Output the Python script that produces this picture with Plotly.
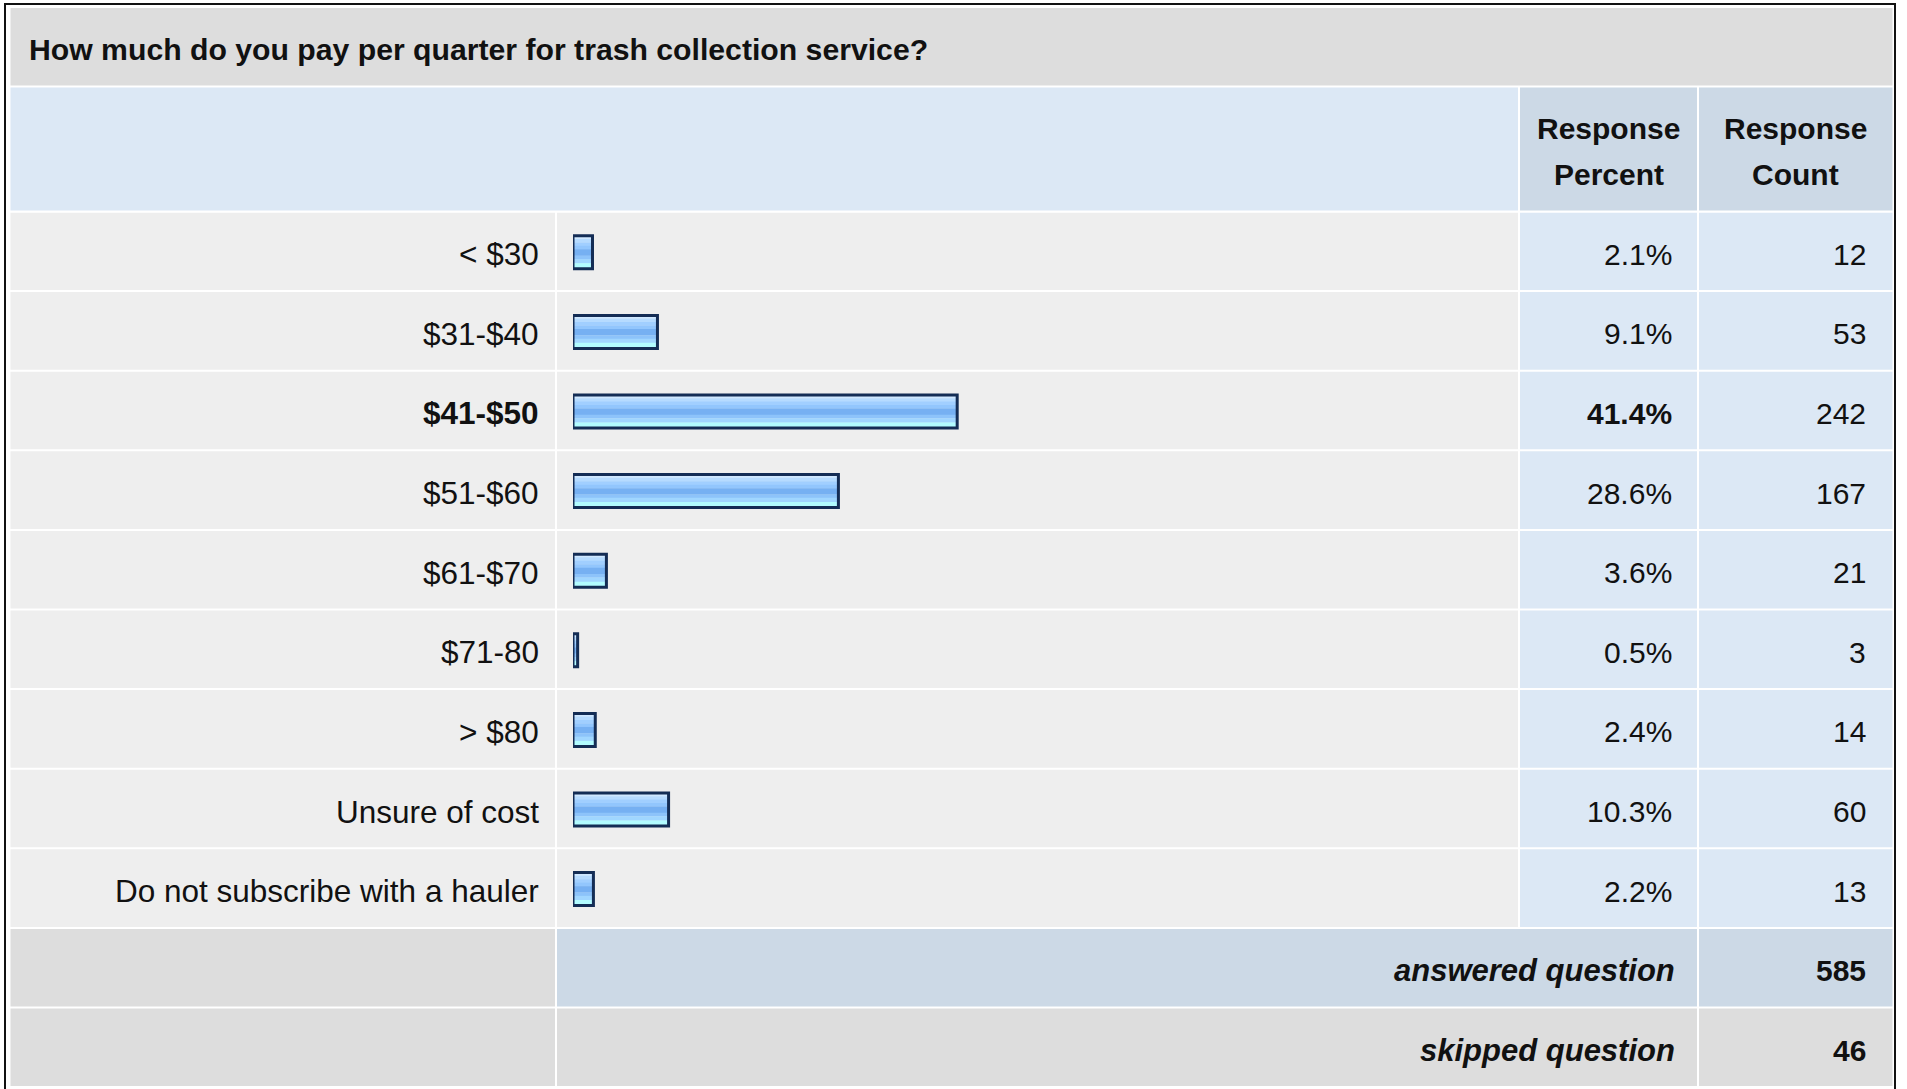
import plotly.graph_objects as go

# ---------------- data ----------------
title_text = "How much do you pay per quarter for trash collection service?"
categories = ["< $30", "$31-$40", "$41-$50", "$51-$60", "$61-$70", "$71-80",
              "> $80", "Unsure of cost", "Do not subscribe with a hauler"]
percents = [2.1, 9.1, 41.4, 28.6, 3.6, 0.5, 2.4, 10.3, 2.2]
counts = [12, 53, 242, 167, 21, 3, 14, 60, 13]
header_lines = [["Response", "Percent"], ["Response", "Count"]]
summary_labels = ["answered question", "skipped question"]
summary_values = [585, 46]

# ---------------- layout helpers ----------------
W, H = 1907, 1089
FONT = "Liberation Sans, Arial, Helvetica, sans-serif"


def px(x):
    return x / W


def py(y):
    return 1 - y / H


ROW0 = 212.5
PITCH = 79.6
GAP = 2.0
n_rows = len(categories) + len(summary_labels)
rows = list(range(len(categories)))
max_i = max(range(len(percents)), key=lambda i: percents[i])

# column extents (px)
COL_LABEL = (10.5, 555)
COL_BAR = (557, 1518)
COL_PCT = (1520, 1697)
COL_CNT = (1699, 1892.5)

C_TITLE = "#dddddd"
C_HEAD_L = "#dce8f5"
C_HEAD_C = "#ccd9e6"
C_ROW = "#eeeeee"
C_NUM = "#dce8f5"
C_SUM = "#ccd9e6"
C_SKIP = "#dddddd"
TXT = "#111111"

shapes = []


def cell_px(x0, x1, y0, y1, color):
    shapes.append(dict(type="rect", xref="paper", yref="paper",
                       x0=px(x0), x1=px(x1), y0=py(y0), y1=py(y1),
                       fillcolor=color, line=dict(width=0), layer="below"))


def cell_row(x0, x1, r, color):
    shapes.append(dict(type="rect", xref="paper", yref="y",
                       x0=px(x0), x1=px(x1), y0=r - 0.5, y1=r + 0.5 - GAP / PITCH,
                       fillcolor=color, line=dict(width=0), layer="below"))


# title band and header
cell_px(COL_LABEL[0], COL_CNT[1], 8, 85.5, C_TITLE)
cell_px(COL_LABEL[0], COL_BAR[1], 87.5, 210.5, C_HEAD_L)
cell_px(COL_PCT[0], COL_PCT[1], 87.5, 210.5, C_HEAD_C)
cell_px(COL_CNT[0], COL_CNT[1], 87.5, 210.5, C_HEAD_C)

# data rows
for r in rows:
    cell_row(*COL_LABEL, r, C_ROW)
    cell_row(*COL_BAR, r, C_ROW)
    cell_row(*COL_PCT, r, C_NUM)
    cell_row(*COL_CNT, r, C_NUM)

# summary rows
r_ans = len(categories)
r_skip = len(categories) + 1
cell_row(*COL_LABEL, r_ans, C_TITLE)
cell_row(COL_BAR[0], COL_PCT[1], r_ans, C_SUM)
cell_row(*COL_CNT, r_ans, C_SUM)
cell_row(*COL_LABEL, r_skip, C_SKIP)
cell_row(COL_BAR[0], COL_PCT[1], r_skip, C_SKIP)
cell_row(*COL_CNT, r_skip, C_SKIP)

# outer border
shapes.append(dict(type="rect", xref="paper", yref="paper",
                   x0=px(5), x1=px(1895), y0=py(4), y1=py(1110),
                   line=dict(color="#111111", width=2), fillcolor="rgba(0,0,0,0)",
                   layer="above"))

# ---------------- annotations ----------------
ann = []
ann.append(dict(text="<b>%s</b>" % title_text, x=px(27), y=py(50), xref="paper", yref="paper",
                xanchor="left", yanchor="middle", showarrow=False,
                font=dict(family=FONT, size=30.2, color=TXT)))
for c, lines in zip([(COL_PCT[0] + COL_PCT[1]) / 2, (COL_CNT[0] + COL_CNT[1]) / 2], header_lines):
    for ly, t in zip([129, 174], lines):
        ann.append(dict(text="<b>%s</b>" % t, x=px(c), y=py(ly), xref="paper", yref="paper",
                        xanchor="center", yanchor="middle", showarrow=False,
                        font=dict(family=FONT, size=30, color=TXT)))

SZ_LAB = 31.5
SZ_NUM = 30
for r, (cat, p, n) in enumerate(zip(categories, percents, counts)):
    bold = (r == max_i)
    lab = "<b>%s</b>" % cat if bold else cat
    pct = "<b>%.1f%%</b>" % p if bold else "%.1f%%" % p
    ann.append(dict(text=lab, x=px(540.5), y=r, xref="paper", yref="y", yshift=-2,
                    xanchor="right", yanchor="middle", showarrow=False,
                    font=dict(family=FONT, size=SZ_LAB, color=TXT)))
    ann.append(dict(text=pct, x=px(1674), y=r, xref="paper", yref="y", yshift=-2,
                    xanchor="right", yanchor="middle", showarrow=False,
                    font=dict(family=FONT, size=SZ_NUM, color=TXT)))
    ann.append(dict(text=str(n), x=px(1868), y=r, xref="paper", yref="y", yshift=-2,
                    xanchor="right", yanchor="middle", showarrow=False,
                    font=dict(family=FONT, size=SZ_NUM, color=TXT)))

for k, (lab, v) in enumerate(zip(summary_labels, summary_values)):
    r = len(categories) + k
    ann.append(dict(text="<b><i>%s</i></b>" % lab, x=px(1677), y=r, xref="paper", yref="y",
                    yshift=-2, xanchor="right", yanchor="middle", showarrow=False,
                    font=dict(family=FONT, size=31, color=TXT)))
    ann.append(dict(text="<b>%d</b>" % v, x=px(1868), y=r, xref="paper", yref="y",
                    yshift=-2, xanchor="right", yanchor="middle", showarrow=False,
                    font=dict(family=FONT, size=SZ_NUM, color=TXT)))

# ---------------- bars (striped gradient + outline) ----------------
BH = 33.0 / PITCH
stripe_frac = [0.095, 0.105, 0.105, 0.105, 0.19, 0.105, 0.127, 0.168]
stripe_col = ["#d0e8ff", "#b6dbff", "#a1cfff", "#92c6fd", "#76b0f2", "#8dc3fa", "#a0d6ff", "#b2fcff"]

fig = go.Figure()
cum = 0.0
for k, (f, c) in enumerate(zip(stripe_frac, stripe_col)):
    w = BH * f + (0.004 if k < len(stripe_frac) - 1 else 0)
    fig.add_trace(go.Bar(x=percents, y=rows, orientation="h", base=0,
                         width=w, offset=-BH / 2 + cum,
                         marker=dict(color=c, line=dict(width=0)),
                         hoverinfo="skip", showlegend=False))
    cum += BH * f
fig.add_trace(go.Bar(x=percents, y=rows, orientation="h", base=0,
                     width=BH, offset=-BH / 2,
                     marker=dict(color="rgba(0,0,0,0)", line=dict(color="#142d55", width=3)),
                     hoverinfo="skip", showlegend=False))

fig.update_layout(
    width=W, height=H,
    margin=dict(l=0, r=0, t=0, b=0, pad=0),
    paper_bgcolor="white", plot_bgcolor="rgba(0,0,0,0)",
    barmode="overlay",
    xaxis=dict(domain=[px(573), px(1501)], range=[0, 100], visible=False, fixedrange=True),
    yaxis=dict(domain=[py(ROW0 + n_rows * PITCH), py(ROW0)], range=[n_rows - 0.5, -0.5],
               visible=False, fixedrange=True),
    shapes=shapes, annotations=ann,
    font=dict(family=FONT),
)

fig.write_html("out.html", config={"displayModeBar": False},
               post_script="document.body.style.margin='0';document.body.style.overflow='hidden';")
